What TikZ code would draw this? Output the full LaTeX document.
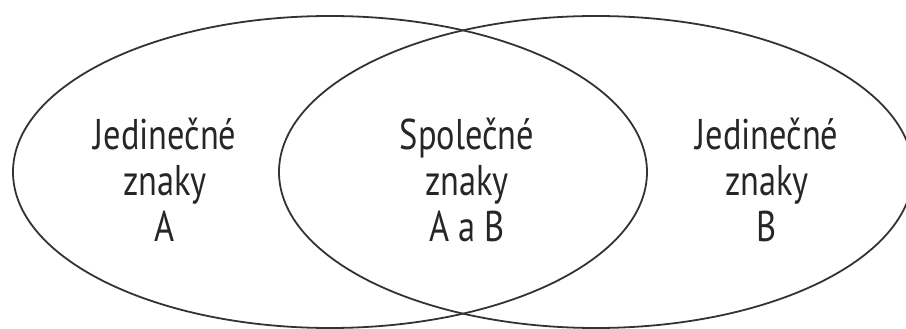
\documentclass[tikz,border=0pt]{standalone}
\usepackage{fontspec}
\setmainfont[FakeStretch=0.8]{PT Sans}
\begin{document}
\begin{tikzpicture}[x=1pt,y=1pt]
	\tikzset{
		mnozina/.style={line width=1.8pt, black!80},
		popis/.style={align=center, text=black!85, font=\fontsize{43}{46}\selectfont}
	}
	\useasboundingbox (0,0) rectangle (906,-329);
	\def\yS{-172};
	\def\rX{317};
	\def\rY{156};
	\coordinate (SA) at (330,\yS);
	\coordinate (SB) at (596,\yS);
	\draw[mnozina] (SA) ellipse [x radius=\rX, y radius=\rY];
	\draw[mnozina] (SB) ellipse [x radius=\rX, y radius=\rY];
	\node[popis] (jedA) at (165,-180) {Jedinečné\\znaky\\A};
	\node[popis] (spol) at (467,-180) {Společné\\znaky\\A a B};
	\node[popis] (jedB) at (767,-180) {Jedinečné\\znaky\\B};
\end{tikzpicture}
\end{document}
